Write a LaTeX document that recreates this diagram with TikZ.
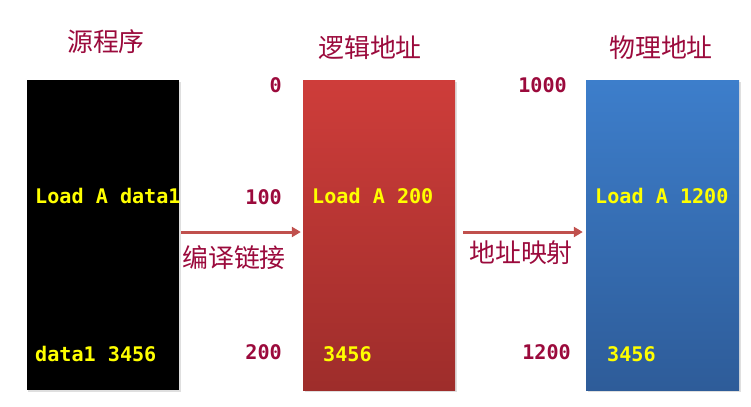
\documentclass[tikz,border=0pt]{standalone}
\usepackage{fontspec}
\setmonofont{DejaVu Sans Mono}
\newfontfamily\cjk{Noto Sans CJK SC}
\usetikzlibrary{arrows.meta,shadows}
\definecolor{lbl}{HTML}{9B0A3C}
\definecolor{ylw}{HTML}{FFFF00}
\definecolor{redtop}{HTML}{CE3D3A}
\definecolor{redbot}{HTML}{9E2D2B}
\definecolor{bluetop}{HTML}{3D7ECB}
\definecolor{bluebot}{HTML}{2E5C99}
\definecolor{arrc}{HTML}{C0504D}
\begin{document}
\begin{tikzpicture}[x=1bp,y=-1bp,
  memblock/.style={rectangle,minimum width=152bp,minimum height=310bp,inner sep=0pt,
    drop shadow={shadow xshift=1.5bp,shadow yshift=-1.5bp,opacity=0.25}},
  title/.style={font=\cjk\fontsize{26}{30}\selectfont,text=lbl,inner sep=0pt},
  code/.style={font=\ttfamily\bfseries\fontsize{20.2}{23}\selectfont,text=ylw,inner sep=0pt,anchor=base west},
  addr/.style={font=\ttfamily\bfseries\fontsize{20.2}{23}\selectfont,text=lbl,inner sep=0pt,anchor=base east},
  arr/.style={draw=arrc,line width=3bp,-{Triangle[length=9bp,width=10bp]}}]
\useasboundingbox (0,0) rectangle (751,406);
% boxes
\node[memblock,fill=black] (src) at (103,235) {};
\node[memblock,top color=redtop,bottom color=redbot] (logic) at (379,235) {};
\node[memblock,minimum width=153bp,top color=bluetop,bottom color=bluebot] (phys) at (662.5,235) {};
% titles
\node[title] (tsrc) at (106,42) {源程序};
\node[title] (tlog) at (370,48) {逻辑地址};
\node[title] (tphy) at (661,48) {物理地址};
% code texts
\node[code] (c1) at (35,203) {Load A data1};
\node[code] (c2) at (35,361) {data1 3456};
\node[code] (c3) at (312,203) {Load A 200};
\node[code] (c4) at (323,361) {3456};
\node[code] (c5) at (595,203) {Load A 1200};
\node[code] (c6) at (607,361) {3456};
% addresses
\node[addr] (a0) at (282,92) {0};
\node[addr] (a100) at (282,204) {100};
\node[addr] (a200) at (282,359) {200};
\node[addr] (a1000) at (567,92) {1000};
\node[addr] (a1200) at (571,359) {1200};
% arrows
\draw[arr] ([xshift=2bp,yshift=3bp]src.east) -- ([xshift=-2bp,yshift=3bp]logic.west);
\draw[arr] ([xshift=8bp,yshift=3bp]logic.east) -- ([xshift=-3bp,yshift=3bp]phys.west);
\node[title] (l1) at (234,258) {编译链接};
\node[title] (l2) at (521,253) {地址映射};
\end{tikzpicture}
\end{document}
